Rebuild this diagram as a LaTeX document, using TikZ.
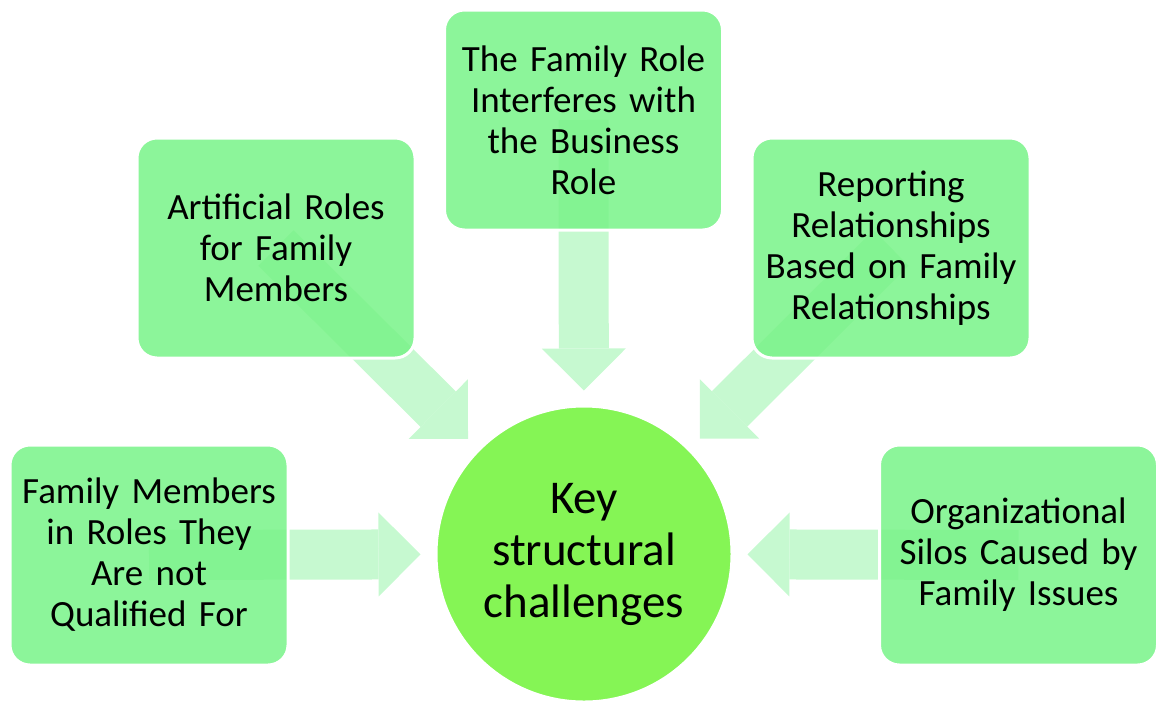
\documentclass[tikz,border=0pt]{standalone}
\usepackage{fontspec}
\setmainfont{Carlito}
\usetikzlibrary{arrows.meta}
\usetikzlibrary{backgrounds}
\definecolor{boxgreen}{RGB}{120,243,136}
\definecolor{hubgreen}{RGB}{133,245,85}
\definecolor{arrowgreen}{RGB}{198,249,208}
\tikzset{
box/.style={
  rectangle, rounded corners=10pt,
  draw=white, line width=1.5pt,
  fill=boxgreen, fill opacity=0.85, text opacity=1,
  minimum width=139pt, minimum height=110pt,
  inner sep=2pt, text width=134pt, align=center,
  font=\fontsize{18.5}{20.5}\selectfont
},
hub/.style={
  circle, fill=hubgreen, draw=white, line width=1.5pt,
  minimum size=148pt, inner sep=0pt, align=center,
  font=\fontsize{23.5}{26}\selectfont
},
bigarrow/.style={
  draw=arrowgreen, line width=25pt, shorten >=7pt,
  -{Triangle[length=21pt,width=42pt,line width=0pt,fill=arrowgreen]}
},
}

\begin{document}
\begin{tikzpicture}[x=0.5pt,y=-0.5pt]
\useasboundingbox (0,0) rectangle (1159,702);
% the boxes
\node[box] (qualified) at (149,555) {Family Members\\in Roles They\\Are not\\Qualified For};
\node[box] (artificial) at (276,248) {Artificial Roles\\for Family\\Members};
\node[box] (interferes) at (583.5,120) {The Family Role\\Interferes with\\the Business\\Role};
\node[box] (reporting) at (891,248) {Reporting\\Relationships\\Based on Family\\Relationships};
\node[box] (silos) at (1018.5,555) {Organizational\\Silos Caused by\\Family Issues};
% the centre
\node[hub] (key) at (584,554) {Key\\structural\\challenges};
% the arrows
\begin{scope}[on background layer]
\draw[bigarrow] (qualified.center) -- (key);
\draw[bigarrow] (artificial.center) -- (key);
\draw[bigarrow] (interferes.center) -- (key);
\draw[bigarrow] (reporting.center) -- (key);
\draw[bigarrow] (silos.center) -- (key);
\end{scope}
\end{tikzpicture}
\end{document}
